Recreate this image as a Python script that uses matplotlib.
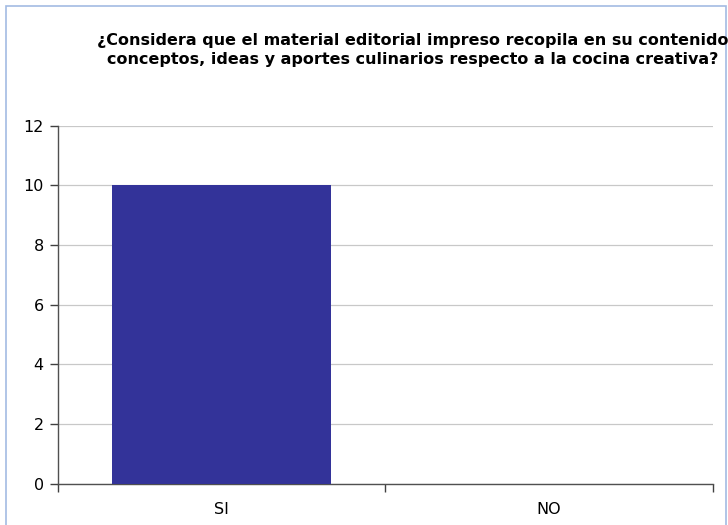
import matplotlib
matplotlib.use("Agg")
import matplotlib.pyplot as plt
from matplotlib.patches import Rectangle
from matplotlib.ticker import FixedLocator, NullFormatter

categories = ["SI", "NO"]
values = [10, 0]
y_ticks = [0, 2, 4, 6, 8, 10, 12]
title = ("¿Considera que el material editorial impreso recopila en su contenido\n"
         "conceptos, ideas y aportes culinarios respecto a la cocina creativa?")

plt.rcParams["font.family"] = ["DejaVu Sans"]

fig = plt.figure(figsize=(7.28, 5.25), dpi=100)
ax = fig.add_axes([0.0793, 0.0787, 0.9001, 0.6819])

x = list(range(len(categories)))
ax.bar(x, values, width=0.67, color="#333399", zorder=3)

ax.set_xlim(-0.5, len(categories) - 0.5)
ax.set_ylim(0, 12)
ax.set_yticks(y_ticks)
ax.set_xticks(x)
ax.set_xticklabels(categories, fontsize=11.5)
ax.xaxis.set_minor_locator(FixedLocator([i - 0.5 for i in range(len(categories) + 1)]))
ax.xaxis.set_minor_formatter(NullFormatter())
ax.tick_params(axis="x", which="major", length=0, pad=13, colors="black")
ax.tick_params(axis="x", which="minor", length=6, width=1, color="#404040", direction="out")
ax.tick_params(axis="y", length=6, width=1, color="#404040", pad=4, labelsize=11.5)

ax.grid(axis="y", color="#c8c8c8", linewidth=0.9, zorder=0)
for side in ("top", "right"):
    ax.spines[side].set_visible(False)
for side in ("left", "bottom"):
    ax.spines[side].set_color("#505050")
    ax.spines[side].set_linewidth(1.0)

fig.text(0.5666, 0.9045, title, ha="center", va="center", fontsize=11.5,
         fontweight="bold", linespacing=1.3)

fig.patches.append(Rectangle((5.5 / 728, -0.05), 720 / 728, 1.05 - 5.5 / 525,
                             transform=fig.transFigure, fill=False,
                             edgecolor="#a3bbe3", linewidth=1.2))

fig.savefig("out.png", dpi=100, facecolor="white")
